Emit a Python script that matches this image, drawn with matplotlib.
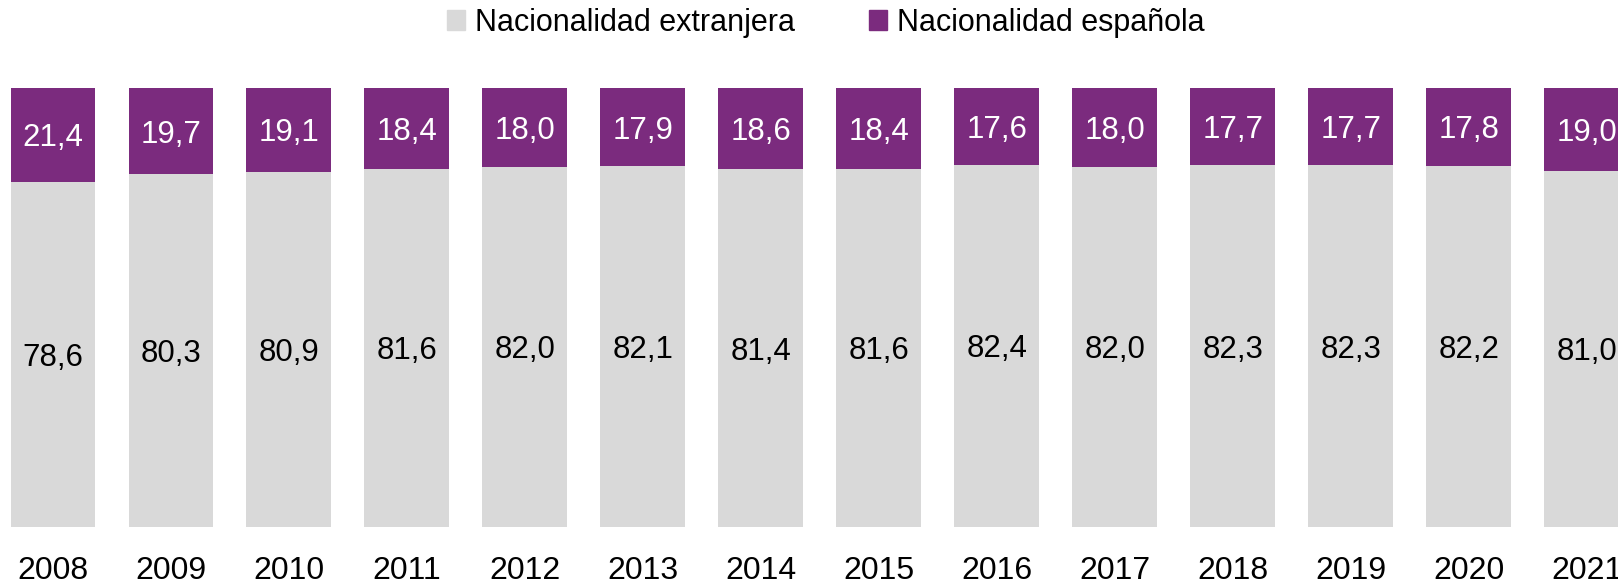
import matplotlib.pyplot as plt
from matplotlib.patches import Patch
import numpy as np

years = ['2008', '2009', '2010', '2011', '2012', '2013', '2014',
         '2015', '2016', '2017', '2018', '2019', '2020', '2021']
extranjera = [78.6, 80.3, 80.9, 81.6, 82.0, 82.1, 81.4,
              81.6, 82.4, 82.0, 82.3, 82.3, 82.2, 81.0]
espanola = [21.4, 19.7, 19.1, 18.4, 18.0, 17.9, 18.6,
            18.4, 17.6, 18.0, 17.7, 17.7, 17.8, 19.0]

GRAY = '#d9d9d9'
PURPLE = '#7b2b7e'

plt.rcParams['font.family'] = ['Liberation Sans', 'DejaVu Sans']

fig = plt.figure(figsize=(16.18, 5.86), dpi=100)
ax = fig.add_axes([0, 0.1012, 1, 0.749])

x = np.arange(len(years))
w = 0.716
ax.bar(x, extranjera, width=w, color=GRAY, linewidth=0)
ax.bar(x, espanola, width=w, bottom=extranjera, color=PURPLE, linewidth=0)

for i in x:
    ax.text(i, extranjera[i] / 2, f'{extranjera[i]:.1f}'.replace('.', ','),
            ha='center', va='center_baseline', fontsize=22.5, color='black')
    ax.text(i, extranjera[i] + espanola[i] / 2, f'{espanola[i]:.1f}'.replace('.', ','),
            ha='center', va='center_baseline', fontsize=22.5, color='white')
    ax.text(i, -10.1, years[i], ha='center', va='center', fontsize=23, color='black')

ax.set_xlim(-0.447, 13.265)
ax.set_ylim(0, 100)
ax.axis('off')

# leyenda arriba
handles = [Patch(color=GRAY, label='Nacionalidad extranjera'),
           Patch(color=PURPLE, label='Nacionalidad española')]
fig.legend(handles=handles, loc='center left', bbox_to_anchor=(447 / 1618, 1 - 23 / 586),
           ncol=2, frameon=False, borderpad=0, borderaxespad=0,
           handlelength=0.6, handleheight=0.62, handletextpad=0.33,
           columnspacing=2.4, prop={'size': 22})

fig.savefig('out.png', dpi=100)
